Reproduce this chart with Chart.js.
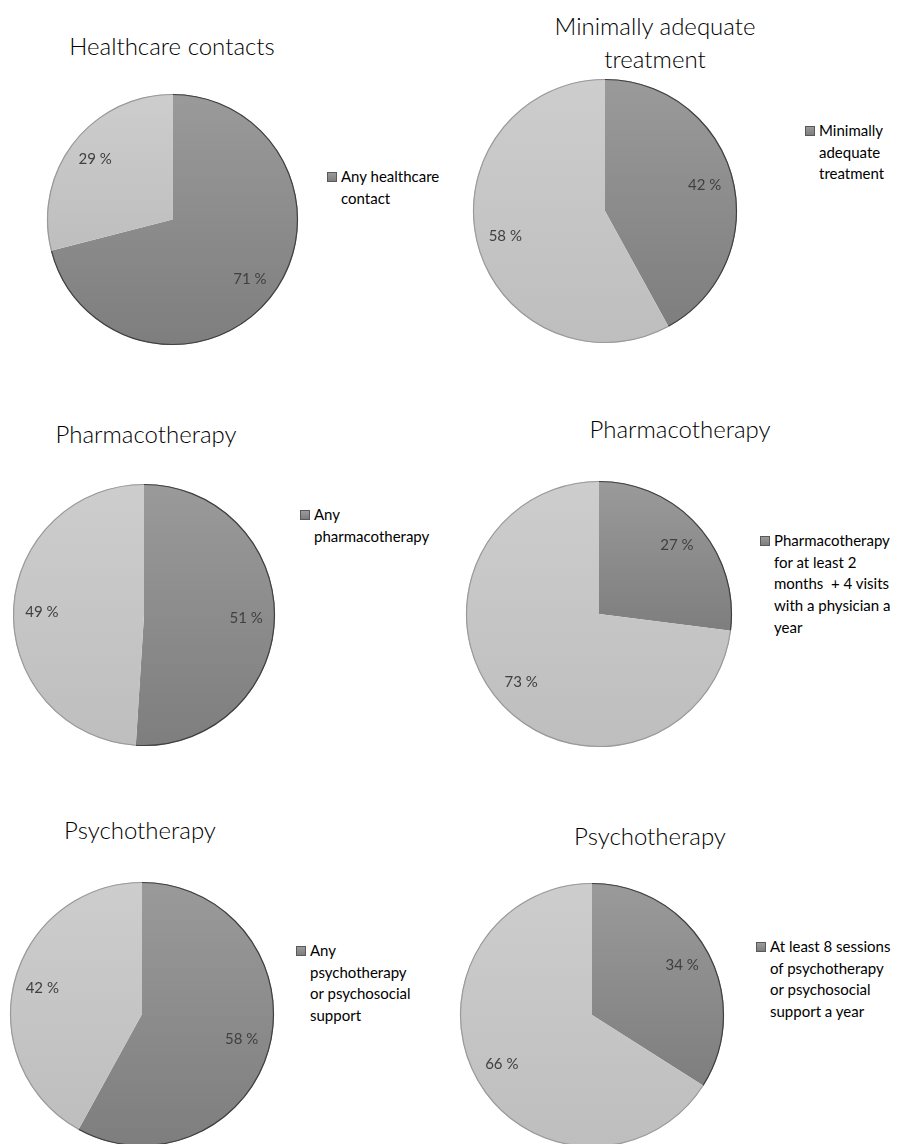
<!DOCTYPE html>
<html><head><meta charset="utf-8">
<script src="https://cdn.jsdelivr.net/npm/chart.js@4.4.1/dist/chart.umd.min.js"></script>
<style>
body{margin:0;background:#fff;width:909px;height:1144px;position:relative;overflow:hidden;font-family:Lato,"Open Sans",sans-serif;}
.title{position:absolute;font-size:24px;font-weight:300;color:#000;text-align:center;line-height:33px;white-space:nowrap;transform:translateX(-50%);}
.legend{position:absolute;font-size:15px;line-height:21.7px;color:#000;white-space:pre;}
.legend .sw{position:absolute;left:-14px;top:6px;width:8px;height:8px;border:1px solid #595959;background:linear-gradient(#9a9a9a,#7e7e7e);}
canvas{position:absolute;}
</style></head><body>
<script>
// ---- data ----
const titles = [
  ['Healthcare  contacts'],
  ['Minimally adequate', 'treatment'],
  ['Pharmacotherapy'],
  ['Pharmacotherapy'],
  ['Psychotherapy'],
  ['Psychotherapy']
];
const legendLabels = [
  ['Any healthcare', 'contact'],
  ['Minimally', 'adequate', 'treatment'],
  ['Any', 'pharmacotherapy'],
  ['Pharmacotherapy', 'for at least 2', 'months  + 4 visits', 'with a physician a', 'year'],
  ['Any', 'psychotherapy', 'or psychosocial', 'support'],
  ['At least 8 sessions', 'of psychotherapy', 'or psychosocial', 'support a year']
];
const yesValues = [71, 42, 51, 27, 58, 34];
const noValues  = [29, 58, 49, 73, 42, 66];

// ---- layout (positions/sizes) ----
const pieLayout = [
  {cx:172.5, cy:219,   r:125.5},
  {cx:605,   cy:211,   r:132},
  {cx:143.5, cy:614.5, r:131},
  {cx:598.5, cy:613.5, r:133},
  {cx:141.5, cy:1013.5,r:132},
  {cx:592,   cy:1015,  r:132}
];
const titleLayout = [
  {x:172, y:28.5}, {x:655, y:8.5}, {x:146, y:416.5},
  {x:680, y:411.5}, {x:140, y:812.5}, {x:650, y:818.5}
];
const legendLayout = [
  {x:341, y:166}, {x:819, y:120}, {x:314, y:504},
  {x:774, y:530}, {x:310, y:940}, {x:770, y:936}
];
const sliceColors = [
  {top:'#9a9a9a', bottom:'#7e7e7e', edge:'#404040'},
  {top:'#cdcdcd', bottom:'#bebebe', edge:'#9a9a9a'}
];

function sliceGradient(context){
  const chart = context.chart;
  const area = chart.chartArea;
  const c = sliceColors[context.dataIndex] || sliceColors[0];
  if (!area) return c.top;
  const vals = chart.data.datasets[0].data;
  const total = vals.reduce((a,b)=>a+b,0);
  let cum = 0;
  for (let i=0;i<context.dataIndex;i++) cum += vals[i];
  const a0 = -Math.PI/2 + 2*Math.PI*cum/total;
  const a1 = a0 + 2*Math.PI*vals[context.dataIndex]/total;
  const cy = (area.top+area.bottom)/2;
  const r = Math.min(area.width, area.height)/2;
  let ys = [cy, cy + r*Math.sin(a0), cy + r*Math.sin(a1)];
  const inArc = (a)=>{ for (let k=-2;k<=2;k++){ const t=a+2*Math.PI*k; if (t>=a0 && t<=a1) return true;} return false; };
  if (inArc(-Math.PI/2)) ys.push(cy - r);
  if (inArc(Math.PI/2)) ys.push(cy + r);
  const y0 = Math.min(...ys), y1 = Math.max(...ys);
  const g = chart.ctx.createLinearGradient(0, y0, 0, Math.max(y1, y0+1));
  g.addColorStop(0, c.top);
  g.addColorStop(1, c.bottom);
  return g;
}

const pieDecor = {
  id:'pieDecor',
  afterDatasetsDraw(chart){
    const ctx = chart.ctx;
    const meta = chart.getDatasetMeta(0);
    const vals = chart.data.datasets[0].data;
    meta.data.forEach((arc,i)=>{
      const p = arc.getProps(['x','y','startAngle','endAngle','outerRadius'], true);
      ctx.save();
      ctx.beginPath();
      ctx.arc(p.x, p.y, p.outerRadius-0.5, p.startAngle, p.endAngle);
      ctx.strokeStyle = sliceColors[i].edge;
      ctx.lineWidth = 1.2;
      ctx.stroke();
      ctx.restore();
    });
    meta.data.forEach((arc,i)=>{
      const p = arc.getProps(['x','y','startAngle','endAngle','outerRadius'], true);
      const mid = (p.startAngle+p.endAngle)/2;
      const d = p.outerRadius*0.78;
      ctx.save();
      ctx.font = '15px Lato, "Open Sans", sans-serif';
      ctx.fillStyle = '#404040';
      ctx.textAlign = 'center';
      ctx.textBaseline = 'middle';
      ctx.fillText(vals[i] + ' %', p.x + Math.cos(mid)*d, p.y + Math.sin(mid)*d);
      ctx.restore();
    });
  }
};

for (let k=0;k<6;k++){
  const L = pieLayout[k];
  const pad = 2;
  const size = Math.round(2*L.r + 2*pad);
  const cv = document.createElement('canvas');
  cv.width = size; cv.height = size;
  cv.style.left = (L.cx - size/2) + 'px';
  cv.style.top = (L.cy - size/2) + 'px';
  document.body.appendChild(cv);
  new Chart(cv, {
    type:'pie',
    data:{
      labels:[legendLabels[k].join(' '), 'Other'],
      datasets:[{data:[yesValues[k], noValues[k]], backgroundColor:sliceGradient, borderWidth:0, hoverOffset:0, offset:0}]
    },
    options:{
      responsive:false, animation:false,
      layout:{padding:pad},
      plugins:{legend:{display:false}, title:{display:false}, tooltip:{enabled:false}}
    },
    plugins:[pieDecor]
  });

  const t = document.createElement('div');
  t.className = 'title';
  t.style.left = titleLayout[k].x + 'px';
  t.style.top = titleLayout[k].y + 'px';
  t.innerHTML = titles[k].join('<br>');
  document.body.appendChild(t);

  const lg = document.createElement('div');
  lg.className = 'legend';
  lg.style.left = legendLayout[k].x + 'px';
  lg.style.top = legendLayout[k].y + 'px';
  const sw = document.createElement('span'); sw.className = 'sw';
  lg.appendChild(sw);
  lg.appendChild(document.createTextNode(legendLabels[k].join('\n')));
  document.body.appendChild(lg);
}
</script>
</body></html>
